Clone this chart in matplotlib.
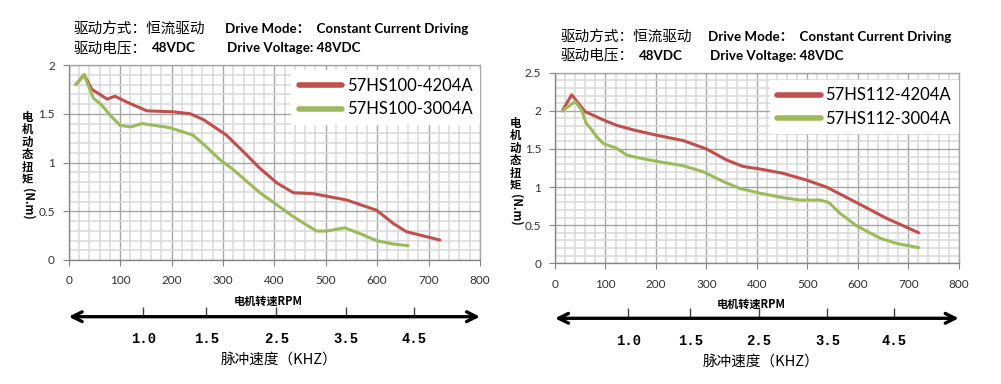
import numpy as np
import matplotlib
matplotlib.use("Agg")
import matplotlib.pyplot as plt
from matplotlib.ticker import MultipleLocator, FormatStrFormatter

plt.rcParams['font.family'] = ['Lato', 'Noto Sans CJK SC', 'DejaVu Sans']

# ---- data ----
rpm_100_red = [14, 30, 45, 75, 90, 113, 152, 203, 236, 262, 307, 340, 372, 405, 437, 476, 541, 599, 631, 657, 722]
tq_100_red = [1.80, 1.90, 1.75, 1.65, 1.68, 1.62, 1.53, 1.52, 1.50, 1.44, 1.28, 1.11, 0.94, 0.79, 0.69, 0.68, 0.615, 0.51, 0.376, 0.29, 0.205]
rpm_100_green = [14, 30, 48, 64, 80, 100, 122, 142, 197, 242, 268, 294, 317, 372, 437, 482, 502, 537, 567, 599, 631, 660]
tq_100_green = [1.80, 1.90, 1.66, 1.59, 1.49, 1.38, 1.365, 1.40, 1.357, 1.28, 1.16, 1.03, 0.94, 0.69, 0.444, 0.297, 0.297, 0.33, 0.27, 0.198, 0.164, 0.147]

rpm_112_red = [14.5, 33, 59.5, 96, 122, 155, 201.5, 254, 300, 340, 373, 406, 452, 499, 538, 598, 657, 721]
tq_112_red = [2.00, 2.21, 1.99, 1.88, 1.81, 1.75, 1.68, 1.61, 1.50, 1.355, 1.27, 1.237, 1.18, 1.09, 1.00, 0.795, 0.59, 0.40]
rpm_112_green = [14.5, 40, 53, 61.6, 72.6, 82.6, 96, 122, 142, 168, 208, 254, 294, 334, 367, 406, 452, 485.5, 525, 542, 565, 598, 644, 677, 721]
tq_112_green = [2.00, 2.12, 2.01, 1.84, 1.75, 1.66, 1.57, 1.51, 1.42, 1.38, 1.33, 1.28, 1.20, 1.07, 0.98, 0.92, 0.86, 0.83, 0.83, 0.80, 0.655, 0.49, 0.33, 0.26, 0.205]

labels_100 = ["57HS100-4204A", "57HS100-3004A"]
labels_112 = ["57HS112-4204A", "57HS112-3004A"]

khz_labels = ["1.0", "1.5", "2.5", "3.5", "4.5"]
khz_rpm_pos = [145, 268, 404, 540, 672]

ylabel_chars = "电机动态扭矩"
ylabel_unit = "(N.m)"

RED = '#C0504D'
GREEN = '#9BBB59'
W, H = 1001, 384


def fx(px):
    return px / W


def fy(py):
    return 1 - py / H


fig = plt.figure(figsize=(W / 100, H / 100), dpi=100)
fig.patch.set_facecolor('white')


def torque_chart(rect, x1, y1, x2, y2, labels, ymax, leg_top):
    ax = fig.add_axes(rect)
    ax.plot(x1, y1, color=RED, lw=2.2, solid_joinstyle='round', solid_capstyle='round', label=labels[0], zorder=3)
    ax.plot(x2, y2, color=GREEN, lw=2.2, solid_joinstyle='round', solid_capstyle='round', label=labels[1], zorder=3)
    ax.set_xlim(0, 800)
    ax.set_ylim(0, ymax)
    ax.xaxis.set_major_locator(MultipleLocator(100))
    ax.xaxis.set_minor_locator(MultipleLocator(20))
    ax.yaxis.set_major_locator(MultipleLocator(0.5))
    ax.yaxis.set_minor_locator(MultipleLocator(0.1))
    ax.yaxis.set_major_formatter(FormatStrFormatter('%g'))
    ax.grid(which='minor', color='#d9d9d9', lw=1.1, zorder=0)
    ax.grid(which='major', color='#a6a6a6', lw=1.0, zorder=1)
    ax.set_axisbelow(True)
    for s in ax.spines.values():
        s.set_color('#a6a6a6')
        s.set_linewidth(1.0)
    ax.spines['left'].set_color('#868686')
    ax.spines['bottom'].set_color('#868686')
    ax.tick_params(which='major', length=4, color='#868686', labelsize=8.5, labelcolor='#303030')
    ax.tick_params(which='minor', length=0)
    ax.tick_params(axis='x', pad=7)
    ax.tick_params(axis='y', pad=6)
    leg = ax.legend(loc='upper right', bbox_to_anchor=(1.0, leg_top), borderaxespad=0,
                    frameon=True, fancybox=False, facecolor='white', edgecolor='none', framealpha=1,
                    fontsize=12, handlelength=2.6, handletextpad=0.3, labelspacing=0.45,
                    borderpad=0.45)
    for ln in leg.get_lines():
        ln.set_linewidth(4)
    leg.set_zorder(5)
    return ax


def bottom_scale(left, width, arrow_y, xlabel_y, num_y, khz_y):
    axk = fig.add_axes([left, 0, width, 1], zorder=-1)
    axk.set_xlim(0, 800)
    axk.set_ylim(H, 0)
    axk.axis('off')
    axk.text(388, xlabel_y, "电机转速RPM", ha='center', va='center', fontsize=8,
             fontweight='bold', family=['Noto Sans CJK SC'])
    axk.annotate('', xy=(0, arrow_y), xytext=(800, arrow_y),
                 arrowprops=dict(arrowstyle='<->,head_length=0.7,head_width=0.35',
                                 lw=2.4, color='black', shrinkA=0, shrinkB=0))
    axk.vlines(khz_rpm_pos, arrow_y - 10, arrow_y, color='#404040', lw=1)
    for p, lab in zip(khz_rpm_pos, khz_labels):
        axk.text(p, num_y, lab, ha='center', va='center', fontsize=10, fontweight='bold',
                 family=['Liberation Mono'])
    axk.text(409, khz_y, "脉冲速度（KHZ）", ha='center', va='center', fontsize=10.5,
             family=['Noto Sans CJK SC'])


def headers(x_cn, x_en, y1, y2):
    fig.text(fx(x_cn), fy(y1), "驱动方式：恒流驱动", ha='left', va='center', fontsize=10.5,
             family=['Noto Sans CJK SC'])
    fig.text(fx(x_en), fy(y1), "Drive Mode：  Constant Current Driving", ha='left', va='center',
             fontsize=9.6, fontweight='bold', family=['Lato', 'Noto Sans CJK SC'])
    fig.text(fx(x_cn), fy(y2), "驱动电压：", ha='left', va='center', fontsize=10.5,
             family=['Noto Sans CJK SC'])
    fig.text(fx(x_cn + 78), fy(y2), "48VDC", ha='left', va='center', fontsize=9.6,
             fontweight='bold', family=['Lato'])
    fig.text(fx(x_en + 2), fy(y2), "Drive Voltage: 48VDC", ha='left', va='center',
             fontsize=9.6, fontweight='bold', family=['Lato'])


def ylabel(xc, ytop):
    pitch = 12.6
    for i, ch in enumerate(ylabel_chars):
        fig.text(fx(xc), fy(ytop + 6 + i * pitch), ch, ha='center', va='center', fontsize=8.2,
                 fontweight='bold', family=['Noto Sans CJK SC'])
    fig.text(fx(xc), fy(ytop + len(ylabel_chars) * pitch + 1), ylabel_unit, ha='center', va='top',
             rotation=-90, fontsize=8.2, fontweight='bold', family=['Noto Sans CJK SC'])


# left chart
axL = torque_chart([fx(68.7), fy(260), (480 - 68.7) / W, 195 / H],
                   rpm_100_red, tq_100_red, rpm_100_green, tq_100_green, labels_100, 2.0, 0.972)
bottom_scale(fx(68.7), (480 - 68.7) / W, 316.7, 301.7, 339, 360)
headers(74, 225, 29, 48)
ylabel(27.5, 111)

# right chart
axR = torque_chart([fx(555), fy(263.3), (958.7 - 555) / W, 190.6 / H],
                   rpm_112_red, tq_112_red, rpm_112_green, tq_112_green, labels_112, 2.5, 0.962)
bottom_scale(fx(555), (958.7 - 555) / W, 318.3, 304, 340.7, 362)
headers(561, 708, 36.7, 55.7)
ylabel(515.5, 117)

fig.savefig("out.png", dpi=100)
